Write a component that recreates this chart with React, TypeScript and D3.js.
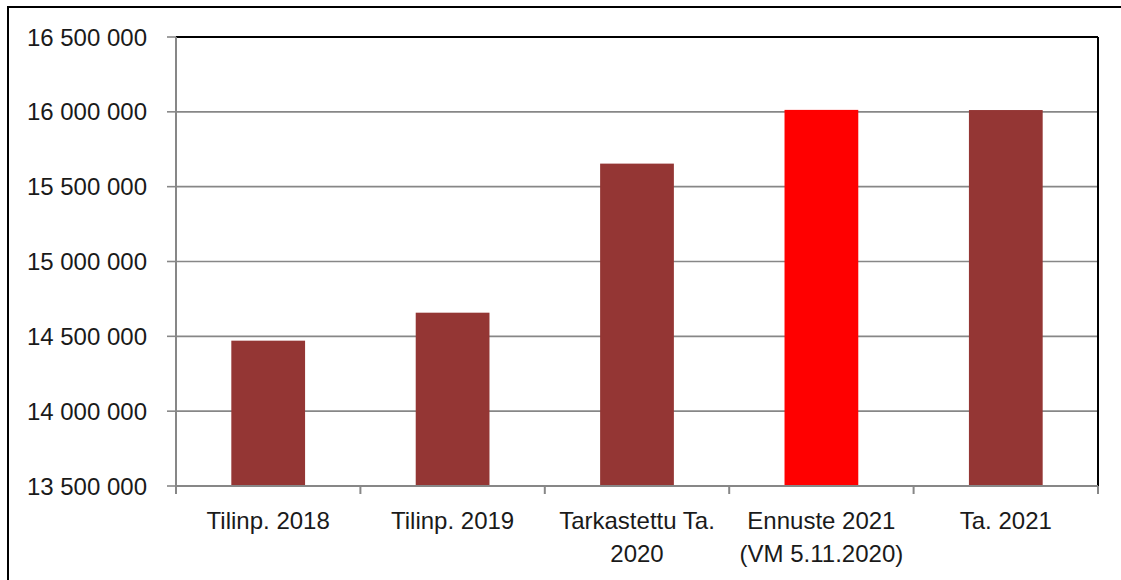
import React from "react";
import * as d3 from "d3";

const categories: string[][] = [
  ["Tilinp. 2018"],
  ["Tilinp. 2019"],
  ["Tarkastettu Ta.", "2020"],
  ["Ennuste 2021", "(VM 5.11.2020)"],
  ["Ta. 2021"],
];
const values: number[] = [14471000, 14658000, 15654000, 16013000, 16012000];
const highlight: boolean[] = [false, false, false, true, false];
const yTicks: number[] = [13500000, 14000000, 14500000, 15000000, 15500000, 16000000, 16500000];

const W = 1121;
const H = 580;
const left = 176;
const right = 1098;
const top = 37;
const bottom = 486;

const fmt = (v: number) => d3.format(",")(v).replace(/,/g, " ");

export default function App() {
  const keys = categories.map((c) => c.join(" "));
  const x = d3.scaleBand<string>().domain(keys).range([left, right]).paddingInner(0.6).paddingOuter(0.3);
  const y = d3.scaleLinear().domain([13500000, 16500000]).range([bottom, top]);
  const step = x.step();
  const boundaries = d3.range(keys.length + 1).map((i) => left + i * step);
  const font = "'Liberation Sans', Arial, sans-serif";

  return (
    <svg width={W} height={H} style={{ position: "absolute", left: 0, top: 0 }} fontFamily={font}>
      <rect x={0} y={0} width={W} height={H} fill="#fff" />
      <rect x={8} y={7} width={W + 20} height={H + 20} fill="none" stroke="#000" strokeWidth={2} />
      {yTicks.map((t) => (
        <g key={t}>
          {t !== 16500000 && (
            <line x1={left} x2={right} y1={y(t)} y2={y(t)} stroke="#878787" strokeWidth={1.6} />
          )}
          <line x1={167} x2={left} y1={y(t)} y2={y(t)} stroke="#878787" strokeWidth={1.6} />
          <text x={147} y={y(t)} textAnchor="end" dominantBaseline="central" fontSize={24} fill="#1a1a1a">
            {fmt(t)}
          </text>
        </g>
      ))}
      {keys.map((k, i) => (
        <rect
          key={k}
          x={x(k)}
          y={y(values[i])}
          width={x.bandwidth()}
          height={bottom - y(values[i])}
          fill={highlight[i] ? "#ff0000" : "#943634"}
        />
      ))}
      <line x1={left} x2={right} y1={top} y2={top} stroke="#000" strokeWidth={2} />
      <line x1={right} x2={right} y1={top} y2={bottom} stroke="#000" strokeWidth={2} />
      <line x1={left} x2={left} y1={top} y2={bottom + 8} stroke="#878787" strokeWidth={2} />
      <line x1={left} x2={right} y1={bottom} y2={bottom} stroke="#878787" strokeWidth={2} />
      {boundaries.map((b, i) => (
        <line key={i} x1={b} x2={b} y1={bottom} y2={bottom + 8} stroke="#878787" strokeWidth={2} />
      ))}
      {categories.map((lines, i) => (
        <text key={i} textAnchor="middle" fontSize={24} fill="#1a1a1a">
          {lines.map((ln, j) => (
            <tspan key={j} x={(x(keys[i]) as number) + x.bandwidth() / 2} y={529 + j * 33}>
              {ln}
            </tspan>
          ))}
        </text>
      ))}
    </svg>
  );
}
